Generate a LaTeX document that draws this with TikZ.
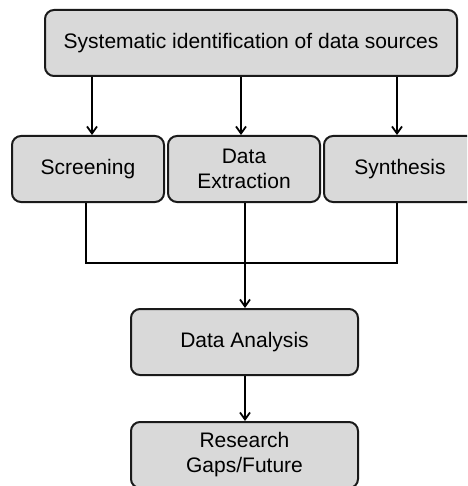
\documentclass[tikz,border=0pt]{standalone}
\usepackage{fontspec}
\setmainfont{Liberation Sans}
\usetikzlibrary{arrows.meta}
\definecolor{boxfill}{HTML}{D9D9D9}
\definecolor{boxline}{HTML}{1A1A1A}
\begin{document}
\begin{tikzpicture}[x=1pt,y=-1pt,
  stepbox/.style={draw=boxline, line width=2pt, fill=boxfill, rounded corners=9pt, minimum height=66pt, align=center, font=\fontsize{21}{25}\selectfont, inner sep=0pt},
  conn/.style={line width=1.8pt, draw=black},
  arr/.style={conn, -{Straight Barb[length=7pt,width=10pt,line width=1.8pt]}}]
\useasboundingbox (0,0) rectangle (467,486);
\clip (0,0) rectangle (467,486);
\node[stepbox, minimum width=412pt] (top) at (251,43) {Systematic identification of data sources};
\node[stepbox, minimum width=152pt] (scr) at (88,169) {Screening};
\node[stepbox, minimum width=152pt] (ext) at (244,169) {Data\\Extraction};
\node[stepbox, minimum width=152pt] (syn) at (400,169) {Synthesis};
\node[stepbox, minimum width=227pt] (ana) at (244.5,342) {Data Analysis};
\node[stepbox, minimum width=227pt] (res) at (244.5,455) {Research\\Gaps/Future};
\coordinate (j) at (245,263);
\draw[arr] (top.south -| 92,0) -- (scr.north -| 92,0);
\draw[arr] (top.south -| 241,0) -- (ext.north -| 241,0);
\draw[arr] (top.south -| 397,0) -- (syn.north -| 397,0);
\draw[conn] (scr.south -| 86,0) |- (j);
\draw[conn] (syn.south -| 397,0) |- (j);
\draw[arr] (ext.south -| 245,0) -- (ana.north -| 245,0);
\draw[arr] (ana.south -| 245,0) -- (res.north -| 245,0);
\end{tikzpicture}
\end{document}
